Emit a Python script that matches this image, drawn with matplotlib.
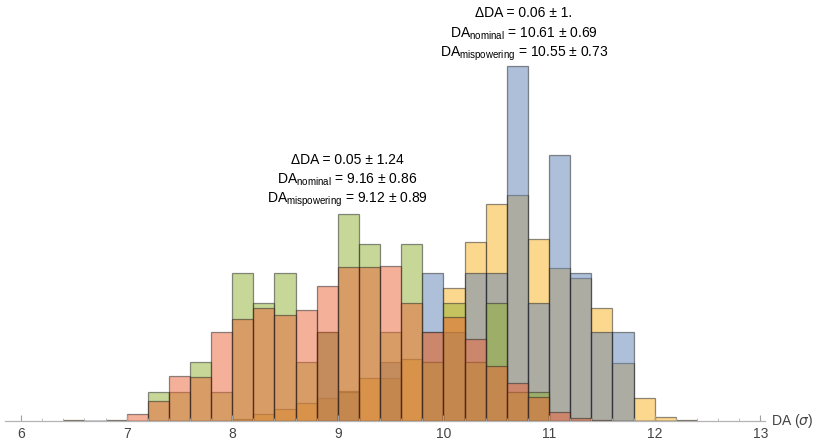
import matplotlib
matplotlib.use("Agg")
import matplotlib.pyplot as plt
from matplotlib.ticker import MultipleLocator

plt.rcParams["font.family"] = ["Liberation Sans", "DejaVu Sans"]

# bin left edges (DA, width 0.2)
bin_left = [6.4, 6.6, 6.8, 7.0, 7.2, 7.4, 7.6, 7.8, 8.0, 8.2,
            8.4, 8.6, 8.8, 9.0, 9.2, 9.4, 9.6, 9.8, 10.0, 10.2,
            10.4, 10.6, 10.8, 11.0, 11.2, 11.4, 11.6, 11.8, 12.0, 12.2]
BIN_W = 0.2

# probability density per bin
mispower_hi = [0.003, 0, 0.003, 0, 0, 0, 0, 0, 0.006, 0.020,
               0.034, 0.051, 0.065, 0.085, 0.122, 0.122, 0.176, 0.252, 0.374, 0.505,
               0.612, 0.638, 0.513, 0.431, 0.402, 0.317, 0.164, 0.065, 0.011, 0.003]
nominal_hi = [0, 0, 0, 0, 0, 0, 0, 0, 0, 0,
              0, 0, 0.250, 0.083, 0, 0.167, 0, 0.417, 0.250, 0.417,
              0.417, 1.000, 0.333, 0.750, 0.417, 0.250, 0.250, 0, 0, 0]
nominal_lo = [0, 0, 0, 0, 0.083, 0.083, 0.167, 0.083, 0.417, 0.333,
              0.417, 0.167, 0.250, 0.583, 0.500, 0.250, 0.500, 0.167, 0.333, 0.167,
              0.333, 0.083, 0.083, 0, 0, 0, 0, 0, 0, 0]
mispower_lo = [0, 0, 0, 0.020, 0.057, 0.128, 0.125, 0.252, 0.286, 0.317,
               0.300, 0.312, 0.380, 0.434, 0.434, 0.437, 0.332, 0.252, 0.292, 0.230,
               0.156, 0.108, 0.068, 0.026, 0.009, 0.003, 0, 0, 0, 0]

# Mathematica-like palette, drawn in this order
series = [
    (mispower_hi, "#FAB220"),
    (nominal_hi, "#5E81B5"),
    (nominal_lo, "#8FB032"),
    (mispower_lo, "#EB6235"),
]

W, H = 830, 441
fig = plt.figure(figsize=(W / 100, H / 100), dpi=100)
ax = fig.add_axes([5 / W, 20 / H, 760 / W, 421 / H])

for vals, col in series:
    ax.bar(bin_left, vals, width=BIN_W, align="edge", color=col, alpha=0.5,
           edgecolor=(0.12, 0.12, 0.12, 0.6), linewidth=0.9)

ax.set_xlim(5.848, 13.045)
ax.set_ylim(0, 1.186)
ax.set_yticks([])
for s in ["left", "top", "right"]:
    ax.spines[s].set_visible(False)
ax.spines["bottom"].set_color("#b4b4b4")
ax.spines["bottom"].set_linewidth(0.9)
ax.set_xticks(range(6, 14))
ax.xaxis.set_minor_locator(MultipleLocator(0.2))
ax.tick_params(axis="x", which="major", direction="in", length=4, width=0.8,
               color="#a0a0a0", labelsize=10, labelcolor="#444444", pad=4)
ax.tick_params(axis="x", which="minor", direction="in", length=2, width=0.6,
               color="#b4b4b4")
ax.text(1.008, 0, r"DA ($\sigma$)", transform=ax.transAxes, fontsize=10,
        color="#444444", ha="left", va="center")

def label_block(xc, ys, delta, nom, mis):
    kw = dict(ha="center", va="center", fontsize=10, color="black")
    fig.text(xc / W, 1 - ys[0] / H, f"ΔDA = {delta}", **kw)
    fig.text(xc / W, 1 - ys[1] / H, r"$\mathregular{DA_{nominal}}$" + f" = {nom}", **kw)
    fig.text(xc / W, 1 - ys[2] / H, r"$\mathregular{DA_{mispowering}}$" + f" = {mis}", **kw)

label_block(347, (160, 180, 200), "0.05 ± 1.24", "9.16 ± 0.86", "9.12 ± 0.89")
label_block(524, (13, 34, 54), "0.06 ± 1.", "10.61 ± 0.69", "10.55 ± 0.73")

fig.savefig("out.png", dpi=100)
